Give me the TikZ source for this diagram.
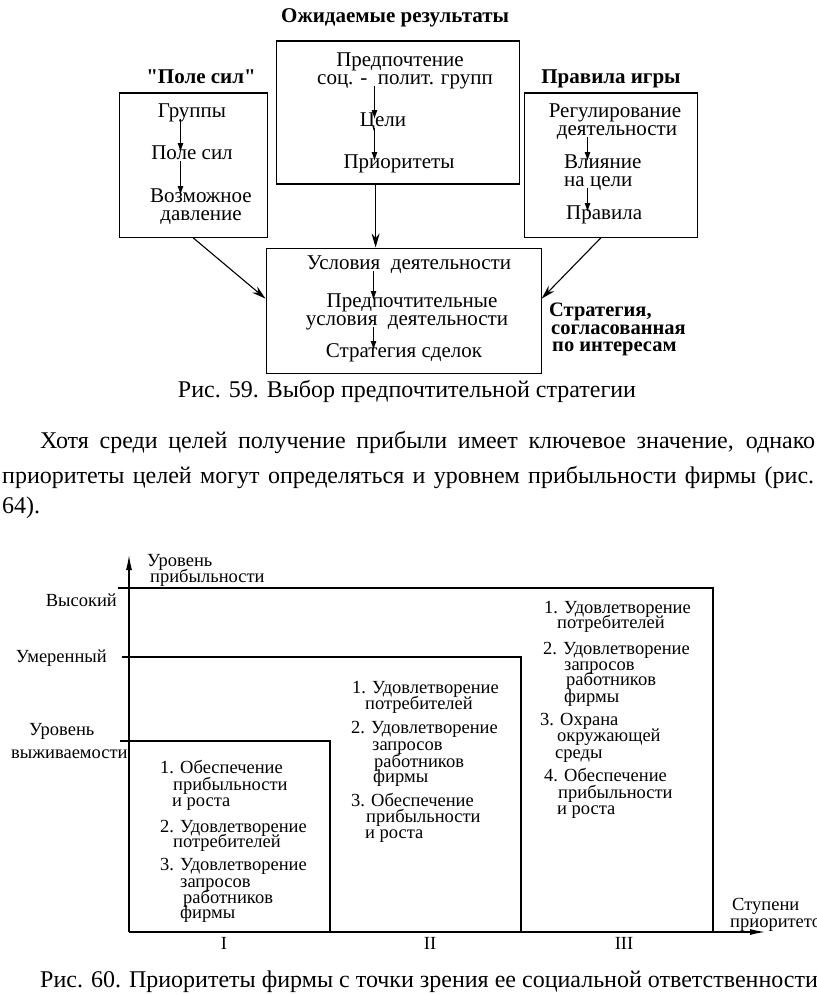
\documentclass[tikz,border=0pt]{standalone}
\usepackage{fontspec}
\setmainfont{Liberation Serif}
\newfontfamily\qfont{Liberation Serif}[Ligatures=TeXOff]
\usetikzlibrary{arrows.meta}
\newcommand{\fsz}[1]{\fontsize{#1}{#1}\selectfont}
\begin{document}
\begin{tikzpicture}[x=1pt,y=-1pt,
  tx/.style={inner sep=0pt, text height=0.6em, text depth=0.15em, yshift=-3pt},
  box/.style={draw, line width=1.2pt, inner sep=0pt},
  lbl/.style={tx, font=\fsz{21}},
  ttl/.style={tx, font=\fsz{21}\bfseries},
  stxt/.style={tx, anchor=west, font=\fsz{20.5}\bfseries},
  small/.style={-{Latex[length=9pt,width=6pt]}, line width=1pt, shorten >=1pt},
  big/.style={-{Stealth[length=14pt,width=8pt]}, line width=1.1pt},
  ctxt/.style={tx, anchor=west, font=\fsz{18.5}},
  axis/.style={-{Latex[length=15pt,width=6pt]}, line width=1.1pt},
  lev/.style={line width=1.1pt},
  captxt/.style={tx, font=\fsz{24}},
]
\useasboundingbox (0,0) rectangle (816,995);

% ---------- Figure 59 ----------
\node[ttl] (t1) at (395,17) {Ожидаемые результаты};
\node[ttl] (t2) at (201,78) {\qfont"Поле сил"};
\node[ttl] (t3) at (611,78) {Правила игры};

\node[box, anchor=north west, minimum width=243pt, minimum height=143pt] (bc) at (275.5,40.5) {};
\node[box, anchor=north west, minimum width=148pt, minimum height=144pt] (bl) at (118.5,92.5) {};
\node[box, anchor=north west, minimum width=173pt, minimum height=144pt] (br) at (523.5,92.5) {};
\node[box, anchor=north west, minimum width=275pt, minimum height=125pt] (bb) at (265.5,247.5) {};

% centre box texts
\node[lbl] (c1) at (400,61) {Предпочтение};
\node[lbl] (c2) at (405,79) {соц. -\ \ полит. групп};
\node[lbl] (c3) at (383,121) {Цели};
\node[lbl] (c4) at (399,163) {Приоритеты};
\coordinate (ac) at (374.5,0);
\draw[small] (c2.south -| ac) -- (c3.north -| ac);
\draw[small] (c3.south -| ac) -- (c4.north -| ac);

% left box texts
\node[lbl] (l1) at (192,112) {Группы};
\node[lbl] (l2) at (192,154) {Поле сил};
\node[lbl] (l3) at (201,197) {Возможное};
\node[lbl] (l4) at (201,215) {давление};
\coordinate (al) at (180.5,0);
\draw[small] (l1.south -| al) -- (l2.north -| al);
\draw[small] (l2.south -| al) -- (l3.north -| al);

% right box texts
\node[lbl] (r1) at (615,112) {Регулирование};
\node[lbl] (r2) at (617,130) {деятельности};
\node[lbl, anchor=west] (r3) at (564,163) {Влияние};
\node[lbl, anchor=west] (r4) at (564,181) {на цели};
\node[lbl, anchor=west] (r5) at (566,214) {Правила};
\coordinate (ar) at (587.5,0);
\draw[small] (r2.south -| ar) -- (r3.north -| ar);
\draw[small] (r4.south -| ar) -- (r5.north -| ar);

% bottom box texts
\node[lbl] (u1) at (409,264) {Условия\ \ деятельности};
\node[lbl] (u2) at (412,302) {Предпочтительные};
\node[lbl] (u3) at (407,320) {условия\ \ деятельности};
\node[lbl] (u4) at (404,352) {Стратегия сделок};
\coordinate (au) at (373.5,0);
\draw[small] (u1.south -| au) -- (u2.north -| au);
\draw[small] (u3.south -| au) -- (u4.north -| au);

% connectors between boxes
\draw[big] ([xshift=74.5pt]bl.south west) -- ([yshift=12pt]bb.west);
\draw[big] ([xshift=-22pt]bc.south) -- ([xshift=-22pt]bc.south |- bb.north);
\draw[big] ([xshift=77.5pt]br.south west) -- ([yshift=12pt]bb.east);

\node[stxt] (s1) at (549,311) {Стратегия,};
\node[stxt] (s2) at (551,329) {согласованная};
\node[stxt] (s3) at (552,346) {по интересам};

\node[captxt] (cap1) at (407,392) {Рис. 59. Выбор предпочтительной стратегии};

% ---------- paragraph ----------
\node[captxt, anchor=west] (p1) at (40,443) {\hbox to 775pt{Хотя среди целей получение прибыли имеет ключевое значение, однако}};
\node[captxt, anchor=west] (p2) at (2,478) {\hbox to 812pt{приоритеты целей могут определяться и уровнем прибыльности фирмы (рис.}};
\node[captxt, anchor=west] (p3) at (2,508) {64).};

% ---------- Figure 60 ----------
\coordinate (O) at (129,932);
\coordinate (ytip) at (129,555);
\coordinate (xtip) at (765,932);
\draw[axis] (O) -- (ytip);
\draw[axis] (O) -- (xtip);

\coordinate (hi) at (713,588);
\coordinate (mid) at (521,657);
\coordinate (lo) at (330,741);
\draw[lev] (118,588) -- (hi) -- (hi |- O);
\draw[lev] (122,657) -- (mid) -- (mid |- O);
\draw[lev] (120,741) -- (lo) -- (lo |- O);

\node[ctxt] (ya1) at (147,561) {Уровень};
\node[ctxt] (ya2) at (150,577) {прибыльности};
\node[ctxt, anchor=east] (lv1) at (117,601) {Высокий};
\node[ctxt, anchor=east] (lv2) at (107,657) {Умеренный};
\node[ctxt, anchor=west] (lv3) at (29,730) {Уровень};
\node[ctxt, anchor=west] (lv4) at (11,753) {выживаемости};

\node[ctxt] (xa1) at (732,905) {Ступени};
\node[ctxt] (xa2) at (730,922) {приоритетов};

\node[ctxt, anchor=center] (n1) at (224,944) {I};
\node[ctxt, anchor=center] (n2) at (430,944) {II};
\node[ctxt, anchor=center] (n3) at (624,944) {III};

\foreach \x/\y/\t [count=\i] in {
  160/768/1. Обеспечение, 173/785/прибыльности, 172/801/и роста,
  160/827/2. Удовлетворение, 173/842/потребителей,
  160/865/3. Удовлетворение, 180/882/запросов, 183/898/работников, 180/913/фирмы}
  \node[ctxt] (ca-\i) at (\x,\y) {\t};

\foreach \x/\y/\t [count=\i] in {
  352/688/1. Удовлетворение, 365/704/потребителей,
  351/728/2. Удовлетворение, 372/745/запросов, 374/762/работников, 373/777/фирмы,
  351/801/3. Обеспечение, 366/817/прибыльности, 365/833/и роста}
  \node[ctxt] (cb-\i) at (\x,\y) {\t};

\foreach \x/\y/\t [count=\i] in {
  544/608/1. Удовлетворение, 557/623/потребителей,
  543/649/2. Удовлетворение, 564/665/запросов, 566/680/работников, 564/697/фирмы,
  540/720/3. Охрана, 557/736/окружающей, 555/753/среды,
  544/776/4. Обеспечение, 558/793/прибыльности, 557/809/и роста}
  \node[ctxt] (cc-\i) at (\x,\y) {\t};

\node[captxt, anchor=west] (cap2) at (40,982) {Рис. 60. Приоритеты фирмы с точки зрения ее социальной ответственности};
\end{tikzpicture}
\end{document}
